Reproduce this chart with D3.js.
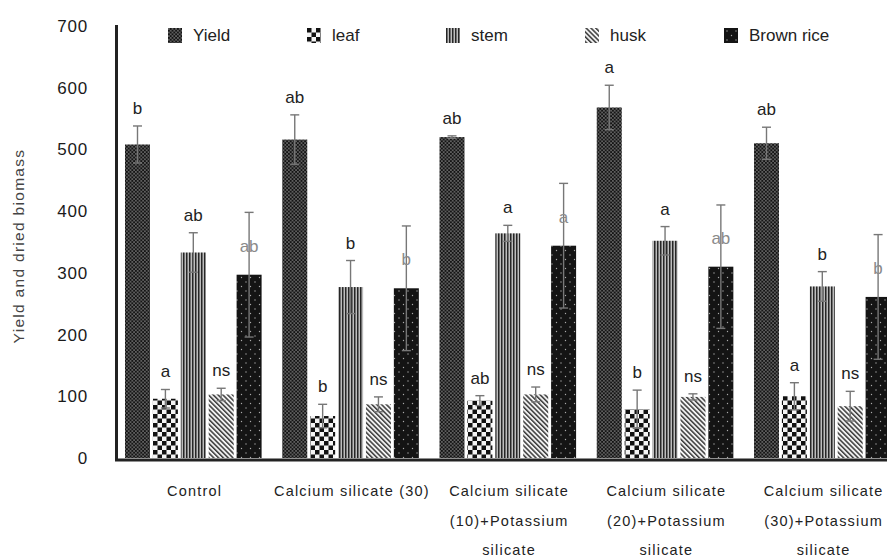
<!DOCTYPE html>
<html><head><meta charset="utf-8">
<script src="https://cdn.jsdelivr.net/npm/d3@7"></script>
<style>
html,body{margin:0;padding:0;background:#fff;overflow:hidden}
text{font-family:"Liberation Sans",Arial,sans-serif}
</style>
</head><body>
<svg id="chart" width="887" height="557"></svg>
<script>
// ---------- data ----------
const categories = [
  ["Control"],
  ["Calcium silicate (30)"],
  ["Calcium silicate", "(10)+Potassium", "silicate"],
  ["Calcium silicate", "(20)+Potassium", "silicate"],
  ["Calcium silicate", "(30)+Potassium", "silicate"]
];
const seriesNames = ["Yield", "leaf", "stem", "husk", "Brown rice"];

const yieldValues = [508, 516, 520, 568, 510];
const yieldErrors = [30, 40, 2, 36, 26];
const yieldLetters = ["b", "ab", "ab", "a", "ab"];

const leafValues = [96, 68, 93, 79, 100];
const leafErrors = [15, 19, 8, 31, 22];
const leafLetters = ["a", "b", "ab", "b", "a"];

const stemValues = [333, 277, 364, 352, 278];
const stemErrors = [32, 43, 13, 23, 24];
const stemLetters = ["ab", "b", "a", "a", "b"];

const huskValues = [103, 87, 103, 99, 84];
const huskErrors = [10, 12, 12, 5, 24];
const huskLetters = ["ns", "ns", "ns", "ns", "ns"];

const brownValues = [297, 275, 344, 310, 261];
const brownErrors = [101, 101, 101, 100, 101];
const brownLetters = ["ab", "b", "a", "ab", "b"];

const yTicks = [0, 100, 200, 300, 400, 500, 600, 700];
const yTitle = "Yield and dried biomass";

// ---------- build table ----------
const seriesValues = [yieldValues, leafValues, stemValues, huskValues, brownValues];
const seriesErrors = [yieldErrors, leafErrors, stemErrors, huskErrors, brownErrors];
const seriesLetters = [yieldLetters, leafLetters, stemLetters, huskLetters, brownLetters];
const catKeys = categories.map(c => c.join(" "));
const rows = [];
catKeys.forEach((c, ci) => {
  seriesNames.forEach((s, si) => {
    rows.push({cat: c, series: s, si, value: seriesValues[si][ci], err: seriesErrors[si][ci], letter: seriesLetters[si][ci]});
  });
});

// ---------- svg / patterns ----------
const svg = d3.select("#chart");
const defs = svg.append("defs");

// Yield: black with white dots
let p = defs.append("pattern").attr("id", "pYield").attr("patternUnits", "userSpaceOnUse").attr("width", 3.6).attr("height", 3.6);
p.append("rect").attr("width", 3.6).attr("height", 3.6).attr("fill", "#141414");
p.append("circle").attr("cx", 0.9).attr("cy", 0.9).attr("r", 0.65).attr("fill", "#d0d0d0");
p.append("circle").attr("cx", 2.7).attr("cy", 2.7).attr("r", 0.65).attr("fill", "#d0d0d0");

// leaf: checkerboard
p = defs.append("pattern").attr("id", "pLeaf").attr("patternUnits", "userSpaceOnUse").attr("width", 9).attr("height", 9);
p.append("rect").attr("width", 9).attr("height", 9).attr("fill", "#f4f4f4");
p.append("rect").attr("width", 4.5).attr("height", 4.5).attr("fill", "#111");
p.append("rect").attr("x", 4.5).attr("y", 4.5).attr("width", 4.5).attr("height", 4.5).attr("fill", "#111");

// stem: vertical stripes
p = defs.append("pattern").attr("id", "pStem").attr("patternUnits", "userSpaceOnUse").attr("width", 3).attr("height", 3);
p.append("rect").attr("width", 3).attr("height", 3).attr("fill", "#bdbdbd");
p.append("rect").attr("width", 1.5).attr("height", 3).attr("fill", "#262626");

// husk: diagonal stripes "\"
p = defs.append("pattern").attr("id", "pHusk").attr("patternUnits", "userSpaceOnUse").attr("width", 3.4).attr("height", 3.4).attr("patternTransform", "rotate(-45)");
p.append("rect").attr("width", 3.4).attr("height", 3.4).attr("fill", "#f2f2f2");
p.append("rect").attr("width", 1.5).attr("height", 3.4).attr("fill", "#3a3a3a");

// Brown rice: black with sparse dots
p = defs.append("pattern").attr("id", "pBrown").attr("patternUnits", "userSpaceOnUse").attr("width", 9).attr("height", 9);
p.append("rect").attr("width", 9).attr("height", 9).attr("fill", "#141414");
p.append("circle").attr("cx", 3).attr("cy", 3).attr("r", 0.7).attr("fill", "#aaa");
p.append("circle").attr("cx", 7.5).attr("cy", 7.5).attr("r", 0.7).attr("fill", "#aaa");

const fills = d3.scaleOrdinal().domain(seriesNames).range(["url(#pYield)", "url(#pLeaf)", "url(#pStem)", "url(#pHusk)", "url(#pBrown)"]);

// ---------- scales ----------
const x0 = d3.scaleBand().domain(catKeys).range([116, 902.25]).paddingInner(0).paddingOuter(0);
const x1 = d3.scaleBand().domain(seriesNames).range([9, 9 + (5 - 0.104) * 27.9]).paddingInner(0.104).paddingOuter(0);
const y = d3.scaleLinear().domain([0, 700]).range([458, 26]);

// ---------- bars ----------
const g = svg.append("g");
g.selectAll("rect.bar").data(rows).join("rect")
  .attr("class", "bar")
  .attr("x", d => x0(d.cat) + x1(d.series))
  .attr("y", d => y(d.value))
  .attr("width", x1.bandwidth())
  .attr("height", d => y(0) - y(d.value))
  .attr("fill", d => fills(d.series));

// error bars
const cx = d => x0(d.cat) + x1(d.series) + x1.bandwidth() / 2;
const eg = g.selectAll("g.err").data(rows).join("g").attr("class", "err")
  .attr("stroke", "#777").attr("stroke-width", 1.4);
eg.append("line").attr("x1", cx).attr("x2", cx).attr("y1", d => y(d.value - d.err)).attr("y2", d => y(d.value + d.err));
eg.append("line").attr("x1", d => cx(d) - 4.5).attr("x2", d => cx(d) + 4.5).attr("y1", d => y(d.value + d.err)).attr("y2", d => y(d.value + d.err));
eg.append("line").attr("x1", d => cx(d) - 4.5).attr("x2", d => cx(d) + 4.5).attr("y1", d => y(d.value - d.err)).attr("y2", d => y(d.value - d.err));

// significance letters
g.selectAll("text.letter").data(rows).join("text")
  .attr("class", "letter")
  .attr("x", cx)
  .attr("y", d => d.si === 4 ? y(d.value) - 23 : y(d.value + d.err) - 12)
  .attr("text-anchor", "middle")
  .attr("font-size", 17)
  .attr("fill", d => d.si === 4 ? "#8a8a8a" : "#222")
  .text(d => d.letter);

// ---------- axes ----------
const yAxis = svg.append("g").attr("transform", "translate(116,0)")
  .call(d3.axisLeft(y).tickValues(yTicks).tickSize(0).tickPadding(28));
yAxis.select(".domain").attr("stroke", "#222").attr("stroke-width", 3).attr("stroke-linecap", "square");
yAxis.selectAll("text").attr("font-size", 17).attr("fill", "#1a1a1a").attr("letter-spacing", "0.8px")
  .attr("font-family", '"Liberation Sans",Arial,sans-serif');

const xAxis = svg.append("g").attr("transform", "translate(0,459.5)")
  .call(d3.axisBottom(x0).tickSize(0).tickSizeOuter(0));
xAxis.select(".domain").attr("stroke", "#222").attr("stroke-width", 3).attr("stroke-linecap", "square");
xAxis.selectAll(".tick text").each(function(d, i) {
  const t = d3.select(this);
  t.text(null).attr("y", 0).attr("dy", null)
    .attr("font-size", 14.5).attr("fill", "#222").attr("letter-spacing", "1.2px")
    .attr("font-family", '"Liberation Sans",Arial,sans-serif');
  categories[i].forEach((line, li) => {
    t.append("tspan").attr("x", 0).attr("y", 36.5 + li * 29.5).text(line);
  });
});

// y title
svg.append("text")
  .attr("transform", "translate(18,246) rotate(-90)")
  .attr("text-anchor", "middle")
  .attr("dominant-baseline", "central")
  .attr("font-size", 15.5)
  .attr("letter-spacing", "1.3px")
  .attr("fill", "#444")
  .text(yTitle);

// ---------- legend ----------
const legend = svg.append("g").selectAll("g").data(seriesNames).join("g")
  .attr("transform", (d, i) => `translate(${168 + i * 139},28)`);
legend.append("rect").attr("width", 14).attr("height", 15).attr("fill", d => fills(d));
legend.append("text").attr("x", 25).attr("y", 13).attr("font-size", 17).attr("fill", "#222").text(d => d);
</script>
</body></html>
